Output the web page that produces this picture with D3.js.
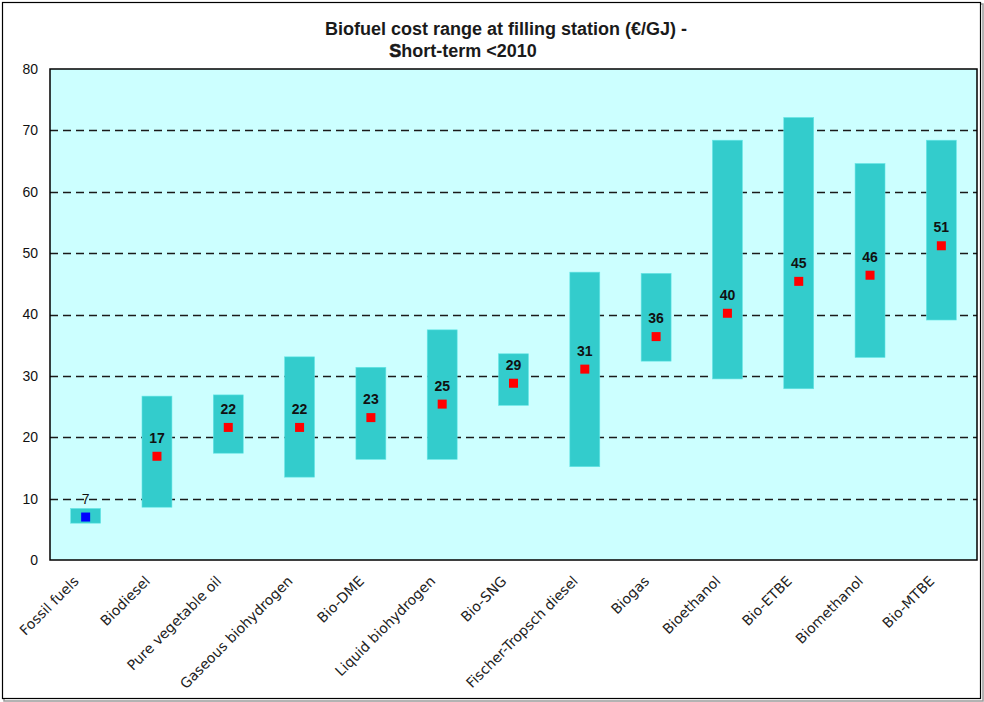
<!DOCTYPE html>
<html>
<head>
<meta charset="utf-8">
<script src="https://cdn.jsdelivr.net/npm/d3@7"></script>
<style>
  html, body { margin: 0; padding: 0; background: #ffffff; }
  svg { display: block; }
</style>
</head>
<body>
<svg id="chart" width="984" height="702"></svg>
<script>
// Biofuel cost ranges at the filling station, €/GJ
const categories = [
  "Fossil fuels", "Biodiesel", "Pure vegetable oil", "Gaseous biohydrogen",
  "Bio-DME", "Liquid biohydrogen", "Bio-SNG", "Fischer-Tropsch diesel",
  "Biogas", "Bioethanol", "Bio-ETBE", "Biomethanol", "Bio-MTBE"
];
const lowValues  = [6.0, 8.6, 17.4, 13.5, 16.4, 16.4, 25.2, 15.2, 32.4, 29.5, 27.9, 33.0, 39.1];
const highValues = [8.4, 26.7, 26.9, 33.1, 31.4, 37.5, 33.6, 46.9, 46.7, 68.4, 72.1, 64.6, 68.4];
const midValues  = [7.0, 16.9, 21.6, 21.6, 23.2, 25.4, 28.8, 31.1, 36.4, 40.2, 45.4, 46.4, 51.2];
const yTicks = [0, 10, 20, 30, 40, 50, 60, 70, 80];

const svg = d3.select("#chart");
const W = 984, H = 702;
const plot = { left: 50, right: 977, top: 69, bottom: 560 };

// outer frame with a light drop shadow
svg.append("rect").attr("x", 4).attr("y", 4).attr("width", W - 5).attr("height", H - 5)
  .attr("fill", "none").attr("stroke", "#9a9a9a").attr("stroke-width", 1.5);
svg.append("rect").attr("x", 2.5).attr("y", 2.5).attr("width", W - 6).attr("height", H - 6)
  .attr("fill", "#ffffff").attr("stroke", "#000000").attr("stroke-width", 1.2);

// title
const title = svg.append("g").attr("font-family", "Liberation Sans, Arial, sans-serif")
  .attr("font-size", 18).attr("font-weight", "bold").attr("fill", "#1a1a1a");
title.append("text").attr("x", 506).attr("y", 35).attr("text-anchor", "middle")
  .text("Biofuel cost range at filling station (€/GJ) -");
const t2 = title.append("text").attr("x", 463).attr("y", 57).attr("text-anchor", "middle");
t2.append("tspan").attr("stroke", "#1a1a1a").attr("stroke-width", 0.6).text("S");
t2.append("tspan").text("hort-term <2010");

const x = d3.scaleBand().domain(categories).range([plot.left, plot.right]).paddingInner(0.58).paddingOuter(0.29);
const y = d3.scaleLinear().domain([0, 80]).range([plot.bottom, plot.top]);

// plot background
svg.append("rect").attr("x", plot.left).attr("y", plot.top)
  .attr("width", plot.right - plot.left).attr("height", plot.bottom - plot.top)
  .attr("fill", "#ccffff");

// dashed gridlines
svg.append("g").selectAll("line").data(yTicks.filter(d => d > 0 && d < 80)).join("line")
  .attr("x1", plot.left).attr("x2", plot.right)
  .attr("y1", d => Math.round(y(d)) + 0.5).attr("y2", d => Math.round(y(d)) + 0.5)
  .attr("stroke", "#1a1a1a").attr("stroke-width", 1.5).attr("stroke-dasharray", "8,5");

// range bars
svg.append("g").selectAll("rect").data(categories).join("rect")
  .attr("x", d => x(d))
  .attr("y", (d, i) => y(highValues[i]))
  .attr("width", x.bandwidth())
  .attr("height", (d, i) => y(lowValues[i]) - y(highValues[i]))
  .attr("fill", "#33cccc")
  .attr("stroke", "#66e6e6").attr("stroke-width", 0.6);

// mid-point markers
const ms = 9;
svg.append("g").selectAll("rect").data(categories).join("rect")
  .attr("x", d => x(d) + x.bandwidth() / 2 - ms / 2)
  .attr("y", (d, i) => y(midValues[i]) - ms / 2)
  .attr("width", ms).attr("height", ms)
  .attr("fill", (d, i) => i === 0 ? "#0000ff" : "#ff0000");

// value labels
svg.append("g").attr("font-family", "Liberation Sans, Arial, sans-serif")
  .attr("font-size", 14).attr("fill", "#111111")
  .selectAll("text").data(categories).join("text")
  .attr("x", d => x(d) + x.bandwidth() / 2)
  .attr("y", (d, i) => y(midValues[i]) - 13.5)
  .attr("text-anchor", "middle")
  .attr("font-weight", (d, i) => i === 0 ? "normal" : "bold")
  .text((d, i) => Math.round(midValues[i]));

// plot border
svg.append("rect").attr("x", plot.left).attr("y", plot.top)
  .attr("width", plot.right - plot.left).attr("height", plot.bottom - plot.top)
  .attr("fill", "none").attr("stroke", "#000000").attr("stroke-width", 1.5);

// y axis
const yAxis = svg.append("g").attr("transform", `translate(${plot.left},0)`)
  .call(d3.axisLeft(y).tickValues(yTicks).tickSize(0).tickPadding(12));
yAxis.select(".domain").remove();
yAxis.selectAll("text").attr("font-family", "Liberation Sans, Arial, sans-serif")
  .attr("font-size", 14).attr("fill", "#111111");

// x axis labels, rotated
const xAxis = svg.append("g").attr("transform", `translate(0,${plot.bottom})`)
  .call(d3.axisBottom(x).tickSize(0).tickPadding(0));
xAxis.select(".domain").remove();
xAxis.selectAll("text")
  .attr("font-family", "DejaVu Sans, Verdana, sans-serif")
  .attr("font-size", 14).attr("fill", "#222222")
  .attr("text-anchor", "end")
  .attr("dy", 0)
  .attr("transform", "translate(-6,22) rotate(-45)");
</script>
</body>
</html>
